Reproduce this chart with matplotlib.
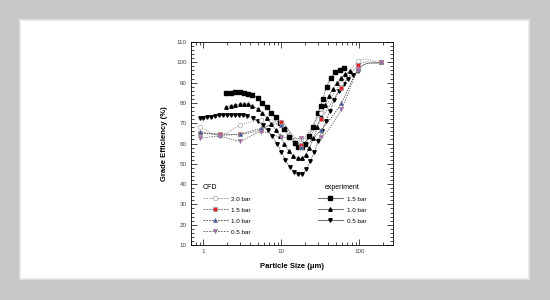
import matplotlib
matplotlib.use("Agg")
import matplotlib.pyplot as plt
import numpy as np
from matplotlib.lines import Line2D
from matplotlib.patches import Rectangle
from matplotlib.ticker import MultipleLocator, LogLocator, NullFormatter, FixedLocator, FixedFormatter

plt.rcParams['font.family'] = ['Liberation Sans', 'DejaVu Sans']

# CFD results
cfd_x = [0.9, 1.65, 3.0, 5.5, 9.8, 18.0, 32.0, 59.0, 97.0, 190.0]
cfd_20 = [68.0, 64.0, 69.0, 71.5, 70.5, 62.0, 75.0, 90.0, 100.5, 100.0]
cfd_15 = [65.0, 64.8, 64.5, 66.8, 70.8, 59.5, 72.0, 87.5, 98.5, 100.0]
cfd_10 = [65.8, 64.2, 64.8, 67.5, 69.3, 58.5, 66.6, 80.0, 96.5, 100.0]
cfd_05 = [62.5, 63.5, 61.4, 65.8, 63.2, 62.5, 63.0, 77.0, 96.0, 100.0]

# experiment
exp15_x = [1.96, 2.25, 2.58, 2.96, 3.33, 3.8, 4.29, 5.06, 5.76, 6.59, 7.42, 8.5, 9.7, 10.9,
           12.5, 14.9, 16.5, 18.5, 20.3, 22.5, 25.4, 29.5, 32.0, 34.2, 38.3, 43.4, 49.5, 57.0, 64.5]
exp15_y = [84.7, 85.0, 85.2, 85.2, 85.0, 84.6, 83.9, 82.3, 80.1, 77.8, 75.2, 72.9, 70.3, 67.0,
           63.4, 60.1, 58.5, 58.3, 60.0, 63.5, 68.0, 75.0, 78.5, 82.0, 88.0, 92.5, 95.0, 96.0, 97.0]
exp10_x = [1.96, 2.25, 2.58, 2.96, 3.33, 3.8, 4.29, 5.06, 5.76, 6.59, 7.42, 8.5, 9.7, 10.9,
           12.5, 14.3, 16.2, 18.3, 20.6, 23.0, 25.8, 29.0, 32.5, 36.5, 41.0, 46.0, 52.0, 58.5, 66.0, 75.0]
exp10_y = [78.1, 78.6, 79.1, 79.4, 79.5, 79.3, 78.5, 77.0, 75.0, 72.5, 69.8, 66.8, 63.5, 60.0,
           56.5, 54.0, 52.8, 52.8, 54.5, 58.0, 62.5, 68.0, 73.5, 79.0, 83.5, 87.0, 90.0, 92.5, 94.0, 95.5]
exp05_x = [0.9, 1.0, 1.13, 1.28, 1.43, 1.61, 1.82, 2.04, 2.3, 2.58, 2.9, 3.26, 3.66, 4.3, 5.0,
           5.8, 6.7, 7.7, 8.8, 10.0, 11.3, 12.8, 14.5, 16.4, 18.6, 21.0, 23.7, 26.6, 29.7, 33.2,
           37.3, 42.0, 48.0, 55.0, 63.0, 72.0, 82.0, 95.0]
exp05_y = [72.4, 72.7, 72.9, 73.2, 73.5, 73.8, 74.0, 74.1, 74.1, 74.1, 74.0, 73.8, 73.5, 72.6, 71.0,
           69.0, 66.5, 63.5, 60.0, 56.0, 52.0, 48.5, 46.0, 44.8, 45.0, 47.5, 51.5, 56.0, 61.0, 66.0,
           71.0, 76.0, 81.5, 86.0, 89.5, 92.0, 93.5, 95.5]


def smooth(x, y, n=12):
    # catmull-rom through the points, in log-x space (line only)
    lx = np.log10(x)
    y = np.asarray(y, float)
    m = np.gradient(y, lx)
    xs, ys = [], []
    for i in range(len(lx) - 1):
        h = lx[i + 1] - lx[i]
        t = np.linspace(0, 1, n, endpoint=False)
        h00 = 2 * t**3 - 3 * t**2 + 1
        h10 = t**3 - 2 * t**2 + t
        h01 = -2 * t**3 + 3 * t**2
        h11 = t**3 - t**2
        xs.append(lx[i] + t * h)
        ys.append(h00 * y[i] + h10 * h * m[i] + h01 * y[i + 1] + h11 * h * m[i + 1])
    xs.append([lx[-1]])
    ys.append([y[-1]])
    return 10 ** np.concatenate(xs), np.concatenate(ys)


fig = plt.figure(figsize=(5.5, 3), dpi=100, facecolor="#c8c8c8")
fig.patches.append(Rectangle((20 / 550, 21 / 300), 509 / 550, 259 / 300, transform=fig.transFigure,
                             facecolor="white", edgecolor="#e6e6e6", lw=1.2, zorder=-5))
ax = fig.add_axes([191 / 550, 55 / 300, 202 / 550, 203 / 300])
ax.set_zorder(2)
ax.set_facecolor("white")

cfd_sets = [(cfd_20, "o", "white", "#888888"), (cfd_15, "s", "#e8202a", "#555555"),
            (cfd_10, "^", "#2f55b0", "#333333"), (cfd_05, "v", "#b060b0", "#555555")]
for yv, mk, fc, lc in cfd_sets:
    sx, sy = smooth(cfd_x, yv)
    ax.plot(sx, sy, ls=(0, (2, 1.5)), color=lc, lw=0.5, zorder=2)
    ax.plot(cfd_x, yv, ls="none", marker=mk, ms=3.3, mfc=fc, mec="#999999", mew=0.4, zorder=4)

for xv, yv, mk in [(exp15_x, exp15_y, "s"), (exp10_x, exp10_y, "^"), (exp05_x, exp05_y, "v")]:
    sx, sy = smooth(xv, yv)
    ax.plot(sx, sy, ls=(0, (1, 1)), color="#333333", lw=0.6, zorder=2)
    ax.plot(xv, yv, ls="none", marker=mk, ms=2.5, color="black", zorder=3)

ax.set_xscale("log")
ax.set_xlim(0.7, 270)
ax.set_ylim(10, 110)
ax.xaxis.set_major_locator(FixedLocator([1, 10, 100]))
ax.xaxis.set_major_formatter(FixedFormatter(["1", "10", "100"]))
ax.xaxis.set_minor_locator(LogLocator(base=10, subs=np.arange(2, 10)))
ax.xaxis.set_minor_formatter(NullFormatter())
ax.yaxis.set_major_locator(MultipleLocator(10))
ax.yaxis.set_minor_locator(MultipleLocator(2))
ax.tick_params(which="both", direction="in", top=True, right=True, labelsize=4.5,
               labelcolor="#444444", width=0.5, pad=3)
ax.tick_params(which="major", length=4)
ax.tick_params(which="minor", length=2)
for s in ax.spines.values():
    s.set_linewidth(0.6)
ax.set_xlabel("Particle Size (μm)", fontsize=5.5, fontweight="bold", labelpad=6)
ax.set_ylabel("Grade Efficiency (%)", fontsize=5.5, fontweight="bold", labelpad=6)

cfd_handles = [Line2D([], [], ls=(0, (2, 1.5)), color=lc, lw=0.6, marker=mk, ms=3.3, mfc=fc,
                      mec="#999999", mew=0.4) for _, mk, fc, lc in cfd_sets]
leg1 = ax.legend(cfd_handles, ["2.0 bar", "1.5 bar", "1.0 bar", "0.5 bar"], title="CFD",
                 loc="upper left", bbox_to_anchor=(0.03, 0.33), frameon=False, fontsize=4.5,
                 title_fontsize=5, handlelength=4, labelspacing=0.9, handletextpad=0.6)
leg1._legend_box.align = "left"
ax.add_artist(leg1)

exp_handles = [Line2D([], [], ls="-", color="#555555", lw=0.6, marker=mk, ms=2.5, mfc="black",
                      mec="black") for mk in ["s", "^", "v"]]
leg2 = ax.legend(exp_handles, ["1.5 bar", "1.0 bar", "0.5 bar"], title="experiment",
                 loc="upper left", bbox_to_anchor=(0.6, 0.33), frameon=False, fontsize=4.5,
                 title_fontsize=5, handlelength=4, labelspacing=0.9, handletextpad=0.6)

fig.savefig("out.png", dpi=100, facecolor=fig.get_facecolor())
